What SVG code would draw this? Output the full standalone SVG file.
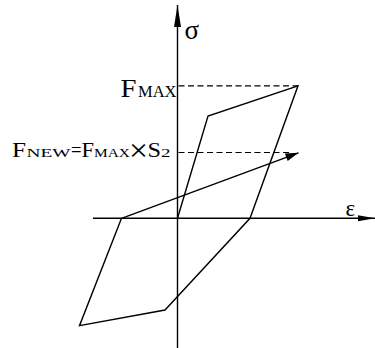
<svg xmlns="http://www.w3.org/2000/svg" width="375" height="348" viewBox="0 0 375 348">
<style>
.ln{fill:none;stroke:#000;stroke-width:1.4;stroke-linejoin:miter}
.dash{fill:none;stroke:#000;stroke-width:1.2;stroke-dasharray:6 3.5}
.t{font-family:"Liberation Serif","Times New Roman",serif;fill:#000}
</style>
<defs>
<marker id="ahV" markerUnits="userSpaceOnUse" markerWidth="24" markerHeight="10" refX="22" refY="4" orient="auto" overflow="visible">
<path d="M0,0.5 L22,4 L0,7.5 Z" fill="#000"/>
</marker>
<marker id="ahH" markerUnits="userSpaceOnUse" markerWidth="18" markerHeight="8" refX="17" refY="3" orient="auto" overflow="visible">
<path d="M0,0 L17,3 L0,6 Z" fill="#000"/>
</marker>
<marker id="ahD" markerUnits="userSpaceOnUse" markerWidth="14" markerHeight="9" refX="13" refY="4" orient="auto" overflow="visible">
<path d="M0,0 L13,4 L0,8 Z" fill="#000"/>
</marker>
</defs>
<g id="connectors">
<line id="y-axis" class="ln" x1="177.5" y1="348" x2="177.5" y2="5" marker-end="url(#ahV)"/>
<line id="x-axis" class="ln" x1="93" y1="218.3" x2="375" y2="218.3" marker-end="url(#ahH)"/>
<line id="fmax-dash" class="dash" x1="178.5" y1="85.8" x2="298" y2="85.8"/>
<line id="fnew-dash" class="dash" x1="178.5" y1="152.5" x2="291" y2="152.5"/>
<polyline id="loop" class="ln" points="177.5,218.3 208,116 298,85.8 250,218.3 165,310 79.5,325.7 121.5,218.3"/>
<line id="reload-arrow" class="ln" x1="121.5" y1="218.3" x2="298.5" y2="152.8" marker-end="url(#ahD)"/>
</g>
<g id="label-sigma"><text class="t" x="184.5" y="39" font-size="27">σ</text></g>
<g id="label-eps"><text class="t" x="345.5" y="216" font-size="23">ε</text></g>
<g id="label-fmax">
<text class="t" x="120.5" y="96.5" font-size="26" textLength="16" lengthAdjust="spacingAndGlyphs">F</text>
<text class="t" x="138" y="96.5" font-size="16.5" textLength="38.5" lengthAdjust="spacingAndGlyphs">MAX</text>
</g>
<g id="label-fnew">
<text class="t" x="12" y="157.3" font-size="20" textLength="14" lengthAdjust="spacingAndGlyphs">F</text>
<text class="t" x="26.5" y="157.3" font-size="13.5" textLength="44" lengthAdjust="spacingAndGlyphs">NEW</text>
<text class="t" x="71" y="157.3" font-size="20" textLength="10.5" lengthAdjust="spacingAndGlyphs">=</text>
<text class="t" x="81.5" y="157.3" font-size="20" textLength="12.5" lengthAdjust="spacingAndGlyphs">F</text>
<text class="t" x="94" y="157.3" font-size="13.5" textLength="36" lengthAdjust="spacingAndGlyphs">MAX</text>
<text class="t" x="129" y="161" font-size="32" textLength="19" lengthAdjust="spacingAndGlyphs">×</text>
<text class="t" x="147.5" y="157.3" font-size="20" textLength="13.5" lengthAdjust="spacingAndGlyphs">S</text>
<text class="t" x="161" y="157.3" font-size="13.5" textLength="9.5" lengthAdjust="spacingAndGlyphs">2</text>
</g>
</svg>
